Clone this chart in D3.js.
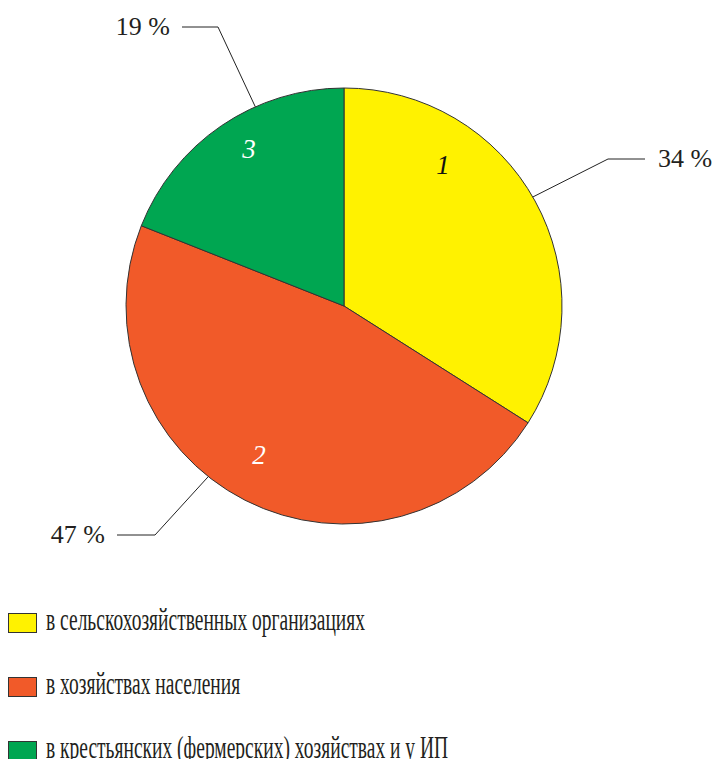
<!DOCTYPE html>
<html>
<head>
<meta charset="utf-8">
<script src="https://cdn.jsdelivr.net/npm/d3@7"></script>
<style>
  body { margin: 0; background: #fff; }
  svg { display: block; }
  text { font-family: "Liberation Serif", "DejaVu Serif", "Times New Roman", serif; }
</style>
</head>
<body>
<div id="chart"></div>
<script>
// data
const categories = [
  "в сельскохозяйственных организациях",
  "в хозяйствах населения",
  "в крестьянских (фермерских) хозяйствах и у ИП"
];
const shares = [34, 47, 19];
const sliceNumbers = ["1", "2", "3"];
const colors = ["#fff200", "#f15a29", "#00a651"];

// label layout (leader angle in degrees clockwise from top, elbow point, text side)
const leaderAngles = [60, 218.5, 336];
const leaderElbows = [[608, 159], [155, 535], [218, 27]];
const leaderEnds = [[645, 159], [117, 535], [182, 27]];
const numberOffsets = [[99, -132], [-85, 158], [-95, -148]];

const W = 716, H = 759;
const cx = 344, cy = 306, R = 218;

const svg = d3.select("#chart").append("svg")
  .attr("width", W).attr("height", H);

const pie = d3.pie().sort(null).value(d => d)
  .startAngle(0).endAngle(2 * Math.PI);
const arcs = pie(shares);
const arc = d3.arc().innerRadius(0).outerRadius(R);

const g = svg.append("g").attr("transform", `translate(${cx},${cy})`);

g.selectAll("path.slice")
  .data(arcs)
  .join("path")
  .attr("class", "slice")
  .attr("d", arc)
  .attr("fill", (d, i) => colors[i])
  .attr("stroke", "#333")
  .attr("stroke-width", 1);

// numbers inside slices
g.selectAll("text.num")
  .data(arcs)
  .join("text")
  .attr("class", "num")
  .attr("x", (d, i) => numberOffsets[i][0])
  .attr("y", (d, i) => numberOffsets[i][1])
  .attr("text-anchor", "middle")
  .attr("font-style", "italic")
  .attr("font-size", 27)
  .attr("fill", (d, i) => i === 0 ? "#111" : "#fff")
  .text((d, i) => sliceNumbers[i]);

// leader lines
const leaders = svg.append("g");
shares.forEach((v, i) => {
  const a = leaderAngles[i] * Math.PI / 180;
  const px = cx + R * Math.sin(a), py = cy - R * Math.cos(a);
  leaders.append("polyline")
    .attr("points", [[px, py], leaderElbows[i], leaderEnds[i]].map(p => p.join(",")).join(" "))
    .attr("fill", "none")
    .attr("stroke", "#222")
    .attr("stroke-width", 1);
  const right = leaderEnds[i][0] > leaderElbows[i][0];
  leaders.append("text")
    .attr("x", leaderEnds[i][0] + (right ? 13 : -12))
    .attr("y", leaderEnds[i][1] + 8)
    .attr("text-anchor", right ? "start" : "end")
    .attr("font-size", 26)
    .attr("fill", "#231f20")
    .text(v + " %");
});

// legend
const legend = svg.append("g").attr("transform", "translate(8,613)");
const rowStep = 64;
let squeeze = null;
categories.forEach((c, i) => {
  const row = legend.append("g").attr("transform", `translate(0,${i * rowStep})`);
  row.append("rect")
    .attr("x", 0.5).attr("y", 0.5)
    .attr("width", 28).attr("height", 19)
    .attr("fill", colors[i])
    .attr("stroke", "#333").attr("stroke-width", 1);
  const t = row.append("text")
    .attr("x", 38).attr("y", 17)
    .attr("font-size", 31)
    .attr("fill", "#231f20")
    .text(c);
  const natural = t.node().getComputedTextLength();
  // the source uses a condensed serif: fit the first row to ~319px, same ratio for others
  if (squeeze === null) squeeze = 319 / natural;
  t.attr("textLength", natural * squeeze).attr("lengthAdjust", "spacingAndGlyphs");
});
</script>
</body>
</html>
